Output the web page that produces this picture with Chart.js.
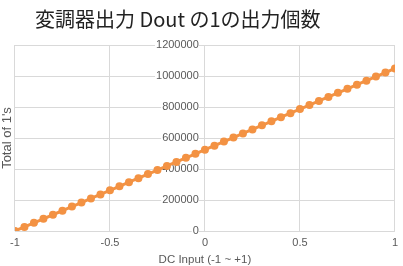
<!DOCTYPE html>
<html>
<head>
<meta charset="utf-8">
<script src="https://cdn.jsdelivr.net/npm/chart.js@4.4.1/dist/chart.umd.min.js"></script>
<style>
  html, body { margin: 0; padding: 0; background: #fff; }
  #wrap { position: relative; width: 403px; height: 266px; }
  #title {
    position: absolute; left: 35px; top: 6px;
    font-family: "Noto Sans CJK JP", "Noto Sans", sans-serif;
    font-size: 20px; color: #222; white-space: nowrap; line-height: 26px;
  }
</style>
</head>
<body>
<div id="wrap">
  <canvas id="myChart" width="403" height="266"></canvas>
  <div id="title">変調器出力 Dout の1の出力個数</div>
</div>
<script>
const dcInput = [
  -1, -0.95, -0.9, -0.85, -0.8, -0.75, -0.7, -0.65, -0.6, -0.55,
  -0.5, -0.45, -0.4, -0.35, -0.3, -0.25, -0.2, -0.15, -0.1, -0.05,
  0, 0.05, 0.1, 0.15, 0.2, 0.25, 0.3, 0.35, 0.4, 0.45,
  0.5, 0.55, 0.6, 0.65, 0.7, 0.75, 0.8, 0.85, 0.9, 0.95, 1
]
const totalOnes = [
  0, 26214, 52429, 78643, 104858, 131072, 157286, 183501, 209715, 235930,
  262144, 288358, 314573, 340787, 367002, 393216, 419430, 445645, 471859, 498074,
  524288, 550502, 576717, 602931, 629146, 655360, 681574, 707789, 734003, 760218,
  786432, 812646, 838861, 865075, 891290, 917504, 943718, 969933, 996147, 1022362, 1048576
]
const xTicks = [-1, -0.5, 0, 0.5, 1]
const yTicks = [0, 200000, 400000, 600000, 800000, 1000000, 1200000]

const orange = '#F39243'
const gridColor = '#d9d9d9'
const labelColor = '#595959'
const tickFont = { family: '"Liberation Sans", Arial, sans-serif', size: 11 }

const data = {
  datasets: [{
    label: "Total of 1's",
    data: dcInput.map((x, i) => ({ x: x, y: totalOnes[i] })),
    borderColor: orange,
    backgroundColor: orange,
    borderWidth: 3,
    pointRadius: 4,
    pointBorderWidth: 0,
    pointBackgroundColor: orange,
    tension: 0
  }]
}

const config = {
  type: 'line',
  data: data,
  options: {
    responsive: false,
    animation: false,
    layout: { autoPadding: false, padding: { top: 45, right: 0, left: 0, bottom: 0 } },
    plugins: { legend: { display: false }, tooltip: { enabled: false } },
    scales: {
      x: {
        type: 'linear',
        min: -1, max: 1,
        afterBuildTicks: (s) => { s.ticks = xTicks.map(v => ({ value: v })) },
        afterFit: (s) => { s.height = 35 },
        ticks: { color: labelColor, font: tickFont, padding: 5, callback: (v) => String(v) },
        grid: { color: gridColor, drawTicks: false },
        border: { display: false },
        title: { display: true, text: 'DC Input (-1 ~ +1)', color: labelColor,
                 font: { family: '"Liberation Sans", Arial, sans-serif', size: 11.5, lineHeight: 1 },
                 padding: { top: 0, bottom: 0 } }
      },
      y: {
        position: { x: 0 },
        min: 0, max: 1200000,
        afterBuildTicks: (s) => { s.ticks = yTicks.map(v => ({ value: v })) },
        // labels sit flush on a centred axis, so trailing spaces make the gap
        ticks: { color: labelColor, font: tickFont, callback: (v) => String(v) + '  ',
                 showLabelBackdrop: true, backdropColor: '#fff',
                 backdropPadding: { top: 0, bottom: 0, left: 1, right: -6 } },
        grid: { color: gridColor, drawTicks: false },
        border: { color: gridColor }
      },
      yTitle: {
        position: 'left',
        display: true,
        min: 0, max: 1,
        ticks: { display: false },
        grid: { display: false, drawTicks: false },
        border: { display: false },
        title: { display: true, text: "Total of 1's", color: labelColor,
                 font: { family: '"Liberation Sans", Arial, sans-serif', size: 13, lineHeight: 1.15 },
                 padding: { top: 0, bottom: 0 } }
      }
    }
  }
}

const myChart = new Chart(document.getElementById('myChart'), config)
</script>
</body>
</html>
